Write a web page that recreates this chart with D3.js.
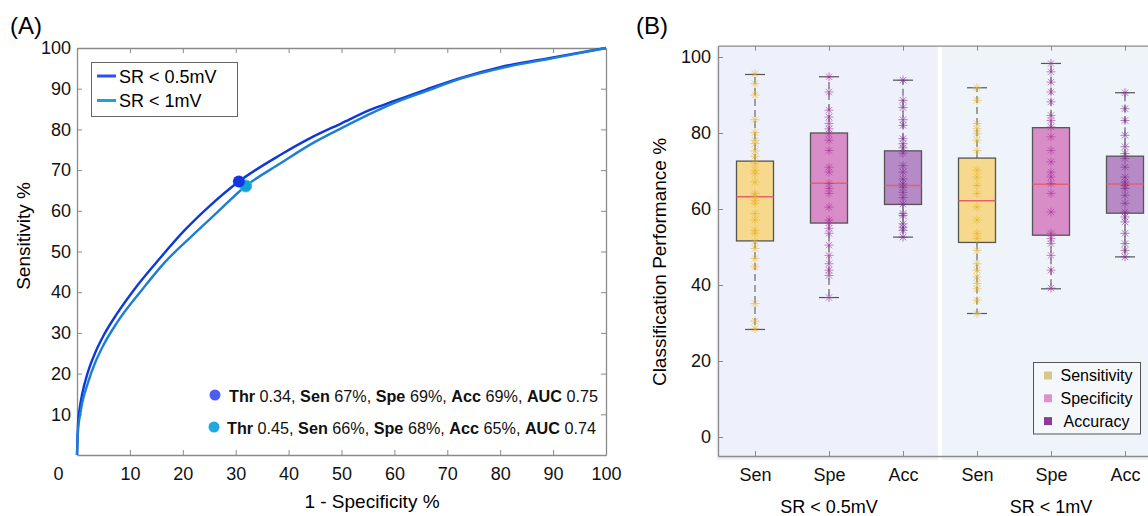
<!DOCTYPE html>
<html>
<head>
<meta charset="utf-8">
<script src="https://cdn.jsdelivr.net/npm/d3@7"></script>
<style>
  body { margin: 0; background: #fff; }
  svg { display: block; font-family: "Liberation Sans", Arial, Helvetica, sans-serif; }
</style>
</head>
<body>
<svg id="chart" width="1148" height="516"></svg>
<script>
// ---- panel A : ROC curves, [1 - specificity %, sensitivity %]
const roc05 = [[0,0],[0.2,7.8],[0.5,11.4],[1,15.1],[2,20.1],[3.5,25.3],[5,29.3],[7.5,34.6],[10.9,40.8],[15,47.3],
  [20.4,55.3],[25,61.1],[30.6,67.2],[38.4,73.7],[44,77.8],[50,81.5],[55.4,84.8],[60,87],[66,89.8],[72.4,92.6],
  [80,95.3],[90,97.7],[100,100]];
const roc1 = [[0,0],[0.2,6.1],[0.6,10],[1,12.9],[2,17.5],[3.5,22.9],[5,27],[7.5,32.4],[12.3,40.6],[16.5,47.2],
  [21.7,53.8],[26.5,59.6],[31.9,66.1],[38.4,71.6],[44,76.2],[50,80.3],[55.4,83.8],[60,86.5],[66,89.4],[72.4,92.4],
  [80,95],[90,97.5],[100,100]];
const seriesNames = ["SR < 0.5mV", "SR < 1mV"];
const opFpr = [30.6, 31.9];
const opSen = [67, 66];
const opThr = ["0.34", "0.45"];
const opSpe = [69, 68];
const opAcc = [69, 65];
const opAuc = ["0.75", "0.74"];
const rocTicks = [0, 10, 20, 30, 40, 50, 60, 70, 80, 90, 100];

// ---- panel B : box plots
const groupNames = ["SR < 0.5mV", "SR < 1mV"];
const metricTicks = ["Sen", "Spe", "Acc"];
const metricNames = ["Sensitivity", "Specificity", "Accuracy"];
const boxLow  = [28.3, 36.7, 52.6, 32.5, 39.0, 47.4];
const boxQ1   = [51.6, 56.3, 61.2, 51.2, 53.1, 58.9];
const boxMed  = [63.2, 66.8, 66.2, 62.2, 66.5, 66.6];
const boxQ3   = [72.6, 80.0, 75.3, 73.4, 81.4, 73.9];
const boxHigh = [95.4, 94.8, 93.9, 91.9, 98.3, 90.6];
const starsSen05 = [95.6,93,90,83.5,80.1,78.1,77.2,75.3,73.9,72,70.2,69.3,67.1,64.1,63.5,62.3,61.5,58.8,57.1,54.4,53.6,51.4,49.6,47,44.8,35.1,30.5,28.5];
const starsSpe05 = [94.8,90.8,86,84.2,82.5,81.1,79.8,78.1,75.4,71,69.7,66.7,65.4,64.1,60.5,57.1,56.4,54.9,53.6,50.5,47.8,45.6,43.9,42.5,36.7];
const starsAcc05 = [93.9,88.6,86.7,83.5,82,78.5,77.2,76.1,74.7,71.4,69.7,67.9,66.6,65.7,64.4,63,61.3,58.8,58.3,56.1,55.2,54.4,52.6];
const starsSen1 = [91.9,88.6,82.5,81.1,79.8,78.1,75.4,70.2,68.4,66.2,64.1,60.5,57.1,53.6,52.2,49.1,45.6,43.9,42.1,40.4,39,36,32.5];
const starsSpe1 = [98.3,96.1,93.4,90.8,88.2,84.6,83.3,81.6,79,75.4,72.4,69.7,68.4,66.7,64.1,59.2,53.6,52.2,50.9,47.8,43.9,39.2];
const starsAcc1 = [90.6,86.4,83.3,79.4,76.4,74.6,73.3,71,68.4,67.1,66.2,65.4,63.6,61.5,59.2,57.9,56.6,53.6,50.9,49.1,47.4];
const perfTicks = [0, 20, 40, 60, 80, 100];

const svg = d3.select("#chart");
const axisColor = "#8a8a8a";
const tickFont = 18, titleFont = 19;

// ================= panel A =================
const xA = d3.scaleLinear().domain([0, 100]).range([77, 606]);
const yA = d3.scaleLinear().domain([0, 100]).range([455, 48]);

svg.append("text").attr("x", 10).attr("y", 34).attr("font-size", 24).text("(A)");

function styleAxis(g) {
  g.select(".domain").attr("stroke", axisColor).attr("stroke-width", 1.3);
  g.selectAll(".tick line").attr("stroke", axisColor);
  g.selectAll("text").attr("fill", "#111").attr("font-family", null);
}

svg.append("g").attr("transform", "translate(0,455)")
  .call(d3.axisBottom(xA).tickValues(rocTicks).tickSize(-5).tickSizeOuter(0).tickPadding(12))
  .attr("font-size", tickFont).call(styleAxis)
  .call(g => g.selectAll(".tick").filter(d => d === 0).select("text").attr("x", -19))
  .call(g => g.selectAll(".tick").filter(d => d === 0).select("line").remove());
svg.append("g").attr("transform", "translate(77,0)")
  .call(d3.axisLeft(yA).tickValues(rocTicks.slice(1)).tickSize(-5).tickSizeOuter(0).tickPadding(6))
  .attr("font-size", tickFont).call(styleAxis);
svg.append("g").attr("transform", "translate(0,48)")
  .call(d3.axisTop(xA).tickValues(rocTicks.slice(1, -1)).tickSize(-5).tickSizeOuter(0).tickFormat(""))
  .call(styleAxis);
svg.append("g").attr("transform", "translate(606,0)")
  .call(d3.axisRight(yA).tickValues(rocTicks.slice(1, -1)).tickSize(-5).tickSizeOuter(0).tickFormat(""))
  .call(styleAxis);

svg.append("text").attr("transform", "translate(30,236) rotate(-90)")
  .attr("text-anchor", "middle").attr("font-size", titleFont).text("Sensitivity %");
svg.append("text").attr("x", 372).attr("y", 508)
  .attr("text-anchor", "middle").attr("font-size", titleFont).text("1 - Specificity %");

const rocLine = d3.line().x(d => xA(d[0])).y(d => yA(d[1])).curve(d3.curveMonotoneX);
const curveColors = ["#0c39d8", "#1d7ed4"];
[roc05, roc1].forEach((data, i) => {
  svg.append("path").datum(data).attr("d", rocLine)
    .attr("fill", "none").attr("stroke", curveColors[i]).attr("stroke-width", 2.4);
});

// operating points on the curves
const opColors = ["#1636e2", "#169fcf"];
[1, 0].forEach(i => {
  svg.append("circle").attr("cx", xA(opFpr[i])).attr("cy", yA(opSen[i] + (i === 0 ? 0.2 : 0.1)))
    .attr("r", 6).attr("fill", opColors[i]).attr("stroke", i === 1 ? "#2cc6e6" : "none").attr("stroke-width", 1);
});

// legend A
const legA = svg.append("g");
legA.append("rect").attr("x", 91.5).attr("y", 62.5).attr("width", 146).attr("height", 54)
  .attr("fill", "#fff").attr("stroke", "#666").attr("stroke-width", 1);
const legLineColors = ["#2b4ff2", "#22a0dc"];
seriesNames.forEach((name, i) => {
  const cy = 76 + i * 24.5;
  legA.append("line").attr("x1", 97).attr("x2", 116).attr("y1", cy).attr("y2", cy)
    .attr("stroke", legLineColors[i]).attr("stroke-width", 3);
  legA.append("text").attr("x", 119).attr("y", cy + 6.5).attr("font-size", tickFont).text(name);
});

// annotation of operating points
const annDot = ["#4b5cf7", "#1fa9df"];
opThr.forEach((thr, i) => {
  const cy = 395 + i * 32;
  svg.append("circle").attr("cx", 215 - i).attr("cy", cy).attr("r", 5.5).attr("fill", annDot[i]);
  const t = svg.append("text").attr("x", 229 - i * 2).attr("y", cy + 6.5).attr("font-size", 16.2).attr("fill", "#111");
  const parts = [["Thr", true], [" " + thr + ", ", false], ["Sen", true], [" " + opSen[i] + "%, ", false],
    ["Spe", true], [" " + opSpe[i] + "%, ", false], ["Acc", true], [" " + opAcc[i] + "%, ", false],
    ["AUC", true], [" " + opAuc[i], false]];
  parts.forEach(p => t.append("tspan").attr("font-weight", p[1] ? "bold" : null).text(p[0]));
});

// ================= panel B =================
const cats = [];
groupNames.forEach(g => metricTicks.forEach(m => cats.push(g + "|" + m)));
const xB = d3.scalePoint().domain(cats).range([718, 1162]).padding(0.5);
const yB = d3.scaleLinear().domain([-5, 103]).range([456, 45.6]);
const step = xB.step();

svg.append("text").attr("x", 636).attr("y", 34).attr("font-size", 24).text("(B)");

// group backgrounds
const bgColors = ["#eef0fb", "#eef4f9"];
groupNames.forEach((g, gi) => {
  const x0 = xB(cats[gi * 3]) - step / 2;
  svg.append("rect").attr("x", x0 + (gi ? 2 : -1.5)).attr("y", yB(103) + 1)
    .attr("width", step * 3 - (gi ? 0 : 0.5)).attr("height", yB(-5) - yB(103) + 3)
    .attr("fill", bgColors[gi]);
});

svg.append("g").attr("transform", "translate(0,456)")
  .call(d3.axisBottom(xB).tickSize(-5).tickSizeOuter(0).tickPadding(12).tickFormat(d => d.split("|")[1]))
  .attr("font-size", tickFont).call(styleAxis);
svg.append("g").attr("transform", "translate(718,0)")
  .call(d3.axisLeft(yB).tickValues(perfTicks).tickSize(-5).tickSizeOuter(0).tickPadding(7))
  .attr("font-size", tickFont).call(styleAxis);
svg.append("g").attr("transform", "translate(0,45.6)")
  .call(d3.axisTop(xB).tickSize(-5).tickSizeOuter(0).tickFormat(""))
  .call(styleAxis);

svg.append("text").attr("transform", "translate(666,262) rotate(-90)")
  .attr("text-anchor", "middle").attr("font-size", titleFont).text("Classification Performance %");
groupNames.forEach((g, gi) => {
  svg.append("text").attr("x", xB(cats[gi * 3 + 1])).attr("y", 513)
    .attr("text-anchor", "middle").attr("font-size", tickFont).text(g);
});

const boxFill = ["#f6d98c", "#d88cc8", "#b58ac6"];
const starColor = ["#e8b428", "#a8379a", "#822c8c"];
const starSets = [starsSen05, starsSpe05, starsAcc05, starsSen1, starsSpe1, starsAcc1];
const starPath = "M-4.5,0H4.5M0,-4.5V4.5M-3.2,-3.2L3.2,3.2M-3.2,3.2L3.2,-3.2";
const bw = step / 2;

cats.forEach((c, i) => {
  const cx = xB(c);
  const m = i % 3;
  const g = svg.append("g");
  // whiskers
  [[boxQ3[i], boxHigh[i]], [boxQ1[i], boxLow[i]]].forEach(([a, b]) => {
    g.append("line").attr("x1", cx).attr("x2", cx).attr("y1", yB(a)).attr("y2", yB(b))
      .attr("stroke", "#666").attr("stroke-width", 1.2).attr("stroke-dasharray", "7,4");
    g.append("line").attr("x1", cx - 10).attr("x2", cx + 10).attr("y1", yB(b)).attr("y2", yB(b))
      .attr("stroke", "#555").attr("stroke-width", 1.2);
  });
  g.append("rect").attr("x", cx - bw / 2).attr("width", bw)
    .attr("y", yB(boxQ3[i])).attr("height", yB(boxQ1[i]) - yB(boxQ3[i]))
    .attr("fill", boxFill[m]).attr("stroke", "#555").attr("stroke-width", 1.3);
  g.append("line").attr("x1", cx - bw / 2).attr("x2", cx + bw / 2)
    .attr("y1", yB(boxMed[i])).attr("y2", yB(boxMed[i]))
    .attr("stroke", "#e4606c").attr("stroke-width", 1.5);
  g.selectAll("path.star").data(starSets[i]).join("path").attr("class", "star")
    .attr("transform", d => `translate(${cx},${yB(d)})`)
    .attr("d", starPath).attr("fill", "none")
    .attr("stroke", starColor[m]).attr("stroke-width", 1).attr("opacity", 0.6);
});

// legend B
const legB = svg.append("g");
legB.append("rect").attr("x", 1033.5).attr("y", 362.5).attr("width", 107).attr("height", 71.5)
  .attr("fill", "#f5f8fb").attr("stroke", "#555").attr("stroke-width", 1);
const legSq = ["#d9c48c", "#dc94cc", "#8c3c98"];
metricNames.forEach((name, i) => {
  const cy = 375.5 + i * 22.8;
  legB.append("rect").attr("x", 1044).attr("y", cy - 4).attr("width", 8).attr("height", 8).attr("fill", legSq[i]);
  legB.append("text").attr("x", 1096.5).attr("y", cy + 5.5).attr("text-anchor", "middle")
    .attr("font-size", 16).text(name);
});
</script>
</body>
</html>
